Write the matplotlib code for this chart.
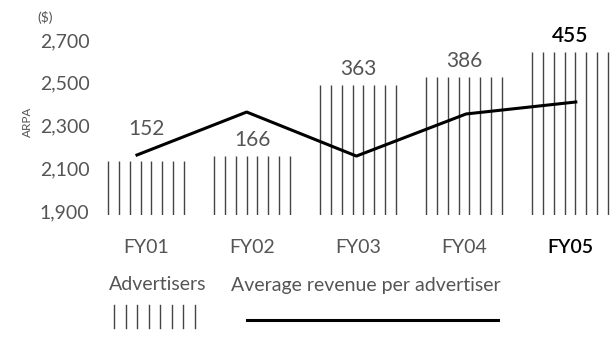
import numpy as np
import matplotlib
matplotlib.use('Agg')
import matplotlib.pyplot as plt
from matplotlib.lines import Line2D

plt.rcParams['font.family'] = ['Lato', 'DejaVu Sans']

years = ['FY01', 'FY02', 'FY03', 'FY04', 'FY05']
advertisers = [152, 166, 363, 386, 455]
arpa = [2162, 2363, 2157, 2354, 2410]
arpa_ticks = [1900, 2100, 2300, 2500, 2700]

txt = '#555555'
fs = 14
W, H = 611, 340
fig = plt.figure(figsize=(W / 100, H / 100), dpi=100)

# axes in pixel terms: left 95, right 611, top 35, bottom 215
ax = fig.add_axes([95 / W, (H - 215) / H, (W - 95) / W, 180 / H])
ax2 = ax.twinx()

x = np.arange(len(years))
ax.set_xlim(-0.481, 4.387)
ax2.set_xlim(-0.481, 4.387)

# bars drawn as 8 thin vertical strokes each
bar_w = 0.714
for xi, v in zip(x, advertisers):
    xs = np.linspace(xi - bar_w / 2, xi + bar_w / 2, 8)
    ax2.vlines(xs, 0, v, color='#444444', lw=1.0, zorder=1)
ax2.set_ylim(0, 502.8)

for xi, v, yr in zip(x, advertisers, years):
    off = 32 if xi == 0 else 16
    hi = yr == 'FY05'
    ax2.annotate(str(v), (xi, v), xytext=(0, off * 0.72), textcoords='offset points',
                 ha='center', va='center', fontsize=15,
                 color='black' if hi else txt,
                 fontweight='semibold' if hi else 'normal')

# the ARPA line sits on a slightly wider x spacing than the bars
line_x = x * 1.035 - 0.085
ax.plot(line_x, arpa, color='black', lw=2.2, zorder=5)
ax.set_zorder(ax2.get_zorder() + 1)
ax.patch.set_visible(False)
ax.set_ylim(1881.3, 2723.4)

ax.set_yticks(arpa_ticks)
ax.set_yticklabels([f'{t:,}' for t in arpa_ticks], fontsize=fs, color=txt)
ax.tick_params(axis='y', length=0, pad=4)
ax.set_xticks(x)
ax.set_xticklabels(years, fontsize=fs, color=txt)
for lab in ax.get_xticklabels():
    if lab.get_text() == 'FY05':
        lab.set_color('black')
        lab.set_fontweight('semibold')
ax.tick_params(axis='x', length=0, pad=17)
ax2.set_yticks([])
for a in (ax, ax2):
    for s in a.spines.values():
        s.set_visible(False)

fig.text(27 / W, 1 - 122 / H, 'ARPA', rotation=90, fontsize=8.5, color=txt,
         ha='center', va='center')
fig.text(45 / W, 1 - 17 / H, '($)', fontsize=10, color=txt, ha='center', va='center')

# legend
fig.text(158 / W, 1 - 285 / H, 'Advertisers', fontsize=fs, color=txt,
         ha='center', va='center')
fig.text(366 / W, 1 - 285 / H, 'Average revenue per advertiser', fontsize=fs, color=txt,
         ha='center', va='center')
for px in np.linspace(114, 195, 8):
    fig.add_artist(Line2D([px / W, px / W], [1 - 305 / H, 1 - 328 / H],
                          color='#444444', lw=1.0))
fig.add_artist(Line2D([247 / W, 498 / W], [1 - 320 / H, 1 - 320 / H], color='black', lw=2.2))

fig.savefig('out.png', dpi=100)
